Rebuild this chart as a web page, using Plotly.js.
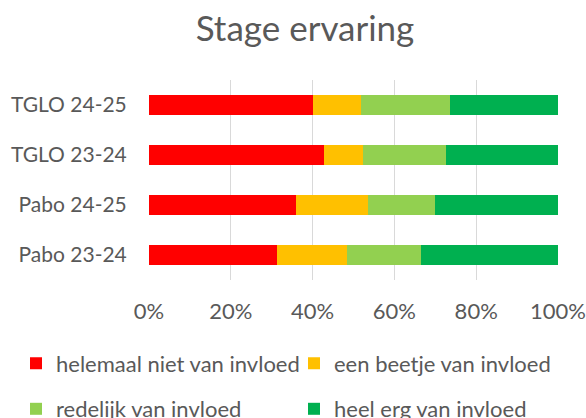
<!DOCTYPE html>
<html>
<head>
<meta charset="utf-8">
<script src="https://cdn.plot.ly/plotly-3.0.1.min.js"></script>
<style>html,body{margin:0;padding:0;background:#fff;}#chart{width:586px;height:418px;}</style>
</head>
<body>
<div id="chart"></div>
<script>
var categories = ["TGLO 24-25", "TGLO 23-24", "Pabo 24-25", "Pabo 23-24"];
var seriesNames = ["helemaal niet van invloed", "een beetje van invloed", "redelijk van invloed", "heel erg van invloed"];
var helemaalNiet = [40.1, 42.8, 35.9, 31.3];
var eenBeetje = [11.8, 9.6, 17.6, 17.0];
var redelijk = [21.6, 20.1, 16.5, 18.1];
var heelErg = [26.5, 27.5, 30.0, 33.6];
var xTicks = [0, 20, 40, 60, 80, 100];
var xTickLabels = ["0%", "20%", "40%", "60%", "80%", "100%"];

var colors = ["#FF0000", "#FFC000", "#92D050", "#00B050"];
var values = [helemaalNiet, eenBeetje, redelijk, heelErg];
var legendIds = ["legend", "legend2", "legend3", "legend4"];
var legendX = [16, 294, 16, 294];
var legendY = [363.5, 363.5, 409, 409];
var font = "Lato, 'Open Sans', sans-serif";
var txt = "#595959";

var data = values.map(function (v, i) {
  return {
    type: "bar",
    orientation: "h",
    name: seriesNames[i],
    y: categories,
    x: v,
    marker: {color: colors[i]},
    legend: legendIds[i],
    hoverinfo: "x+name"
  };
});

var layout = {
  width: 586,
  height: 418,
  paper_bgcolor: "#fff",
  plot_bgcolor: "#fff",
  margin: {l: 149, r: 28, t: 80, b: 138},
  barmode: "stack",
  bargap: 0.6,
  font: {family: font, color: txt, size: 22},
  title: {
    text: "Stage ervaring",
    font: {family: font, size: 35, color: txt},
    xref: "container", x: 305 / 586, xanchor: "center",
    yref: "container", y: 1 - 29 / 418, yanchor: "middle"
  },
  xaxis: {
    range: [0, 100],
    tickvals: xTicks,
    ticktext: xTickLabels,
    showgrid: true,
    gridcolor: "#d9d9d9",
    gridwidth: 1,
    zeroline: false,
    showline: false,
    ticks: "outside",
    ticklen: 12,
    tickcolor: "rgba(0,0,0,0)",
    tickfont: {family: font, size: 22, color: txt},
    fixedrange: true
  },
  yaxis: {
    categoryorder: "array",
    categoryarray: categories,
    autorange: "reversed",
    showgrid: false,
    zeroline: false,
    showline: false,
    ticks: "outside",
    ticklen: 17,
    tickcolor: "rgba(0,0,0,0)",
    tickfont: {family: font, size: 21, color: txt},
    fixedrange: true
  },
  showlegend: true
};

legendIds.forEach(function (id, i) {
  layout[id] = {
    orientation: "h",
    xref: "container", x: legendX[i] / 586, xanchor: "left",
    yref: "container", y: 1 - legendY[i] / 418, yanchor: "middle",
    font: {family: font, size: 22, color: txt},
    bgcolor: "rgba(0,0,0,0)"
  };
});

Plotly.newPlot("chart", data, layout, {displayModeBar: false, staticPlot: true});
</script>
</body>
</html>
